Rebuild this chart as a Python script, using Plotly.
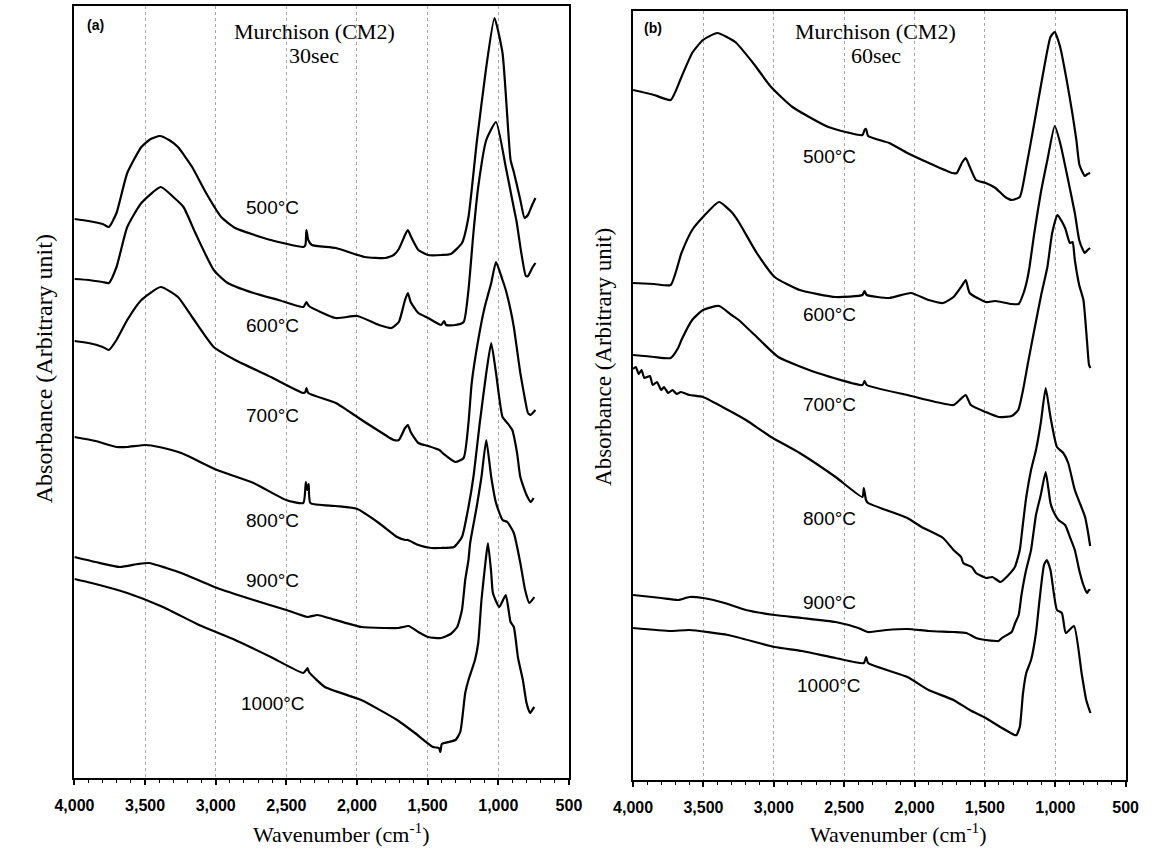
import plotly.graph_objects as go

# ---------------- data (wavenumber cm-1, absorbance in arbitrary units) ----------------
# Panel (a): Murchison (CM2), 30 sec
A500 = [(4000,5.59),(3900,5.57),(3800,5.54),(3756,5.51),(3702,5.65),(3626,6.05),(3526,6.31),(3460,6.39),(3396,6.42),(3330,6.38),(3267,6.31),(3167,6.11),(3068,5.85),(2961,5.61),(2862,5.50),(2610,5.38),(2380,5.31),(2365,5.33),(2358,5.48),(2345,5.38),(2320,5.33),(2150,5.30),(1945,5.21),(1800,5.20),(1740,5.23),(1704,5.29),(1660,5.43),(1640,5.48),(1620,5.42),(1566,5.28),(1497,5.23),(1400,5.23),(1337,5.24),(1257,5.35),(1211,5.61),(1153,6.35),(1085,7.11),(1027,7.60),(970,7.25),(913,6.18),(890,6.06),(844,5.78),(814,5.60),(790,5.63),(760,5.73),(737,5.80)]
A600 = [(4000,4.99),(3900,4.98),(3800,4.96),(3756,4.95),(3702,5.11),(3626,5.51),(3526,5.75),(3389,5.91),(3300,5.81),(3228,5.71),(3144,5.45),(3014,5.08),(2915,4.95),(2732,4.85),(2556,4.78),(2380,4.71),(2358,4.76),(2340,4.72),(2150,4.60),(1998,4.62),(1845,4.53),(1756,4.50),(1704,4.56),(1660,4.78),(1640,4.85),(1620,4.76),(1566,4.65),(1497,4.60),(1405,4.53),(1383,4.57),(1370,4.53),(1303,4.53),(1245,4.56),(1211,4.88),(1176,5.45),(1142,5.91),(1085,6.38),(1016,6.56),(947,6.11),(901,5.78),(870,5.56),(837,5.25),(805,5.02),(790,5.02),(760,5.10),(737,5.15)]
A700 = [(4000,4.37),(3900,4.35),(3800,4.31),(3756,4.28),(3702,4.38),(3626,4.58),(3526,4.78),(3389,4.91),(3267,4.81),(3167,4.61),(3014,4.31),(2862,4.18),(2610,4.01),(2380,3.85),(2365,3.86),(2358,3.90),(2345,3.85),(2150,3.75),(1998,3.61),(1945,3.56),(1800,3.43),(1740,3.38),(1704,3.38),(1660,3.50),(1640,3.53),(1620,3.46),(1566,3.35),(1497,3.32),(1417,3.28),(1394,3.25),(1303,3.16),(1245,3.20),(1211,3.55),(1188,3.95),(1142,4.38),(1096,4.71),(1050,4.95),(1016,5.16),(970,4.98),(947,4.88),(913,4.68),(890,4.51),(867,4.28),(844,4.05),(810,3.78),(790,3.65),(770,3.63),(750,3.66),(737,3.68)]
A800 = [(4000,3.41),(3850,3.37),(3700,3.31),(3626,3.31),(3496,3.33),(3400,3.31),(3244,3.25),(2991,3.08),(2732,2.95),(2503,2.78),(2380,2.75),(2362,2.96),(2352,2.88),(2342,2.94),(2330,2.75),(2150,2.72),(1998,2.69),(1845,2.55),(1716,2.41),(1657,2.38),(1640,2.38),(1566,2.33),(1475,2.30),(1410,2.30),(1314,2.31),(1257,2.41),(1211,2.71),(1176,3.01),(1131,3.55),(1085,4.05),(1050,4.35),(1016,4.05),(970,3.61),(936,3.55),(901,3.48),(867,3.25),(844,3.01),(800,2.83),(770,2.76),(750,2.80)]
A900 = [(4000,2.21),(3850,2.16),(3679,2.11),(3550,2.14),(3473,2.15),(3350,2.10),(3244,2.05),(2991,1.90),(2732,1.78),(2500,1.68),(2350,1.61),(2280,1.63),(2200,1.60),(1970,1.51),(1800,1.50),(1704,1.50),(1635,1.52),(1566,1.46),(1497,1.41),(1405,1.40),(1337,1.44),(1291,1.51),(1257,1.68),(1234,1.98),(1211,2.18),(1199,2.35),(1153,2.71),(1119,3.01),(1085,3.38),(1050,3.01),(1016,2.75),(970,2.58),(936,2.56),(890,2.45),(844,2.15),(810,1.88),(781,1.75),(760,1.78),(745,1.81)]
A1000 = [(4000,1.99),(3878,1.95),(3626,1.85),(3373,1.71),(3117,1.53),(2862,1.38),(2610,1.21),(2380,1.05),(2360,1.08),(2350,1.10),(2340,1.06),(2227,0.91),(1970,0.78),(1716,0.58),(1590,0.45),(1462,0.31),(1420,0.30),(1410,0.26),(1400,0.34),(1383,0.35),(1303,0.38),(1269,0.46),(1234,0.85),(1211,0.98),(1165,1.18),(1142,1.35),(1119,1.78),(1089,2.18),(1073,2.35),(1050,2.05),(1038,1.85),(993,1.71),(947,1.83),(913,1.56),(890,1.51),(860,1.20),(826,0.98),(800,0.75),(775,0.65),(755,0.69),(745,0.71)]

# Panel (b): Murchison (CM2), 60 sec
B500 = [(4000,6.90),(3850,6.85),(3733,6.80),(3656,7.03),(3580,7.27),(3503,7.40),(3401,7.47),(3274,7.38),(3147,7.17),(3019,6.93),(2867,6.73),(2612,6.53),(2370,6.45),(2355,6.50),(2344,6.51),(2330,6.44),(2179,6.37),(2051,6.27),(1898,6.17),(1733,6.07),(1700,6.07),(1660,6.18),(1636,6.22),(1610,6.14),(1563,6.00),(1494,5.97),(1425,5.92),(1356,5.83),(1310,5.80),(1252,5.83),(1206,6.13),(1149,6.57),(1091,7.03),(1034,7.43),(1004,7.48),(965,7.33),(919,7.00),(879,6.67),(850,6.40),(828,6.15),(790,6.04),(770,6.06),(752,6.07)]
B600 = [(4000,4.97),(3850,4.96),(3733,4.95),(3656,5.27),(3580,5.50),(3503,5.63),(3389,5.78),(3300,5.68),(3249,5.58),(3121,5.27),(2994,5.03),(2816,4.90),(2561,4.83),(2370,4.85),(2355,4.89),(2340,4.85),(2179,4.82),(2026,4.87),(1900,4.80),(1797,4.77),(1723,4.83),(1660,4.95),(1636,5.00),(1608,4.87),(1494,4.78),(1425,4.79),(1310,4.76),(1260,4.76),(1225,4.87),(1200,5.00),(1183,5.13),(1149,5.47),(1103,5.87),(1056,6.20),(1004,6.54),(965,6.37),(919,6.07),(861,5.67),(830,5.40),(803,5.30),(790,5.27),(770,5.30),(752,5.32)]
B700 = [(4000,4.25),(3850,4.23),(3733,4.22),(3680,4.32),(3656,4.40),(3580,4.60),(3503,4.70),(3389,4.74),(3300,4.65),(3249,4.60),(3121,4.43),(2968,4.23),(2688,4.07),(2370,3.95),(2355,3.99),(2340,3.95),(2051,3.85),(1723,3.75),(1680,3.80),(1636,3.85),(1600,3.75),(1494,3.68),(1402,3.63),(1310,3.64),(1263,3.70),(1229,3.90),(1194,4.17),(1149,4.50),(1100,4.85),(1056,5.13),(1022,5.47),(984,5.65),(930,5.52),(896,5.37),(877,5.38),(861,5.20),(830,4.95),(800,4.80),(775,4.40),(760,4.15),(750,4.12)]
B800 = [(4000,4.11),(3980,4.13),(3960,4.06),(3940,4.10),(3920,4.02),(3900,4.03),(3880,4.04),(3860,3.95),(3830,3.98),(3800,3.90),(3780,3.93),(3750,3.87),(3720,3.90),(3690,3.86),(3660,3.88),(3600,3.85),(3503,3.83),(3325,3.70),(3198,3.60),(3019,3.43),(2816,3.27),(2561,3.03),(2370,2.83),(2360,2.92),(2345,2.80),(2330,2.77),(2051,2.62),(1950,2.53),(1797,2.42),(1723,2.30),(1669,2.23),(1654,2.17),(1593,2.13),(1563,2.07),(1491,2.02),(1447,2.03),(1389,1.98),(1332,2.05),(1287,2.13),(1252,2.30),(1229,2.57),(1206,2.83),(1172,3.10),(1137,3.30),(1103,3.57),(1068,3.92),(1034,3.63),(988,3.33),(943,3.27),(908,3.17),(861,2.90),(820,2.75),(788,2.63),(770,2.50),(752,2.34)]
B900 = [(4000,1.85),(3800,1.82),(3680,1.80),(3600,1.83),(3503,1.82),(3350,1.77),(3198,1.70),(2994,1.65),(2800,1.62),(2561,1.58),(2400,1.52),(2332,1.48),(2200,1.50),(2051,1.51),(1900,1.49),(1723,1.48),(1632,1.47),(1563,1.42),(1494,1.40),(1420,1.39),(1402,1.39),(1379,1.42),(1310,1.48),(1285,1.57),(1260,1.65),(1240,1.85),(1210,2.08),(1172,2.30),(1137,2.65),(1103,2.85),(1068,3.08),(1034,2.77),(1011,2.68),(977,2.60),(930,2.55),(896,2.43),(861,2.30),(830,2.10),(800,1.95),(775,1.87),(760,1.90),(750,1.90)]
B1000 = [(4000,1.52),(3733,1.49),(3600,1.50),(3325,1.45),(2994,1.33),(2800,1.29),(2561,1.22),(2360,1.17),(2344,1.23),(2330,1.17),(2051,1.03),(1900,0.90),(1723,0.80),(1608,0.70),(1494,0.62),(1379,0.52),(1290,0.45),(1275,0.45),(1252,0.53),(1229,0.87),(1206,1.07),(1172,1.20),(1137,1.47),(1114,1.77),(1080,2.15),(1060,2.20),(1034,2.10),(988,1.70),(953,1.67),(925,1.47),(867,1.54),(813,1.07),(780,0.80),(750,0.67)]

TEMPS = ["500°C", "600°C", "700°C", "800°C", "900°C", "1000°C"]
SERIES_A = [A500, A600, A700, A800, A900, A1000]
SERIES_B = [B500, B600, B700, B800, B900, B1000]
TITLES = [("Murchison (CM2)", "30sec", "(a)"), ("Murchison (CM2)", "60sec", "(b)")]
X_TICKS = [4000, 3500, 3000, 2500, 2000, 1500, 1000, 500]

# ---------------- layout helpers (pixel -> paper, margins are zero) ----------------
W, H = 1160, 853
def px(x):
    return x / W
def py(y):
    return 1 - y / H

SANS = "Liberation Sans, Arial, sans-serif"
SERIF = "Liberation Serif, Times New Roman, serif"

fig = go.Figure()
for series, xa, ya in ((SERIES_A, "x", "y"), (SERIES_B, "x2", "y2")):
    for s in series:
        fig.add_trace(go.Scatter(
            x=[p[0] for p in s], y=[p[1] for p in s], mode="lines",
            line=dict(color="black", width=2.2, shape="spline", smoothing=0.5),
            xaxis=xa, yaxis=ya, showlegend=False, hoverinfo="skip"))

def xaxis_style(domain, anchor):
    return dict(
        domain=domain, anchor=anchor, range=[4000, 500],
        tickvals=X_TICKS, tickformat=",d",
        ticks="outside", ticklen=5, tickwidth=1.5, tickcolor="black",
        minor=dict(dtick=100, tick0=0, ticks="outside", ticklen=3, tickwidth=1, tickcolor="black", showgrid=False),
        showline=True, mirror=True, linecolor="black", linewidth=1.6,
        showgrid=True, gridcolor="#a8a8a8", griddash="dot", gridwidth=1,
        zeroline=False, ticklabelstandoff=7,
        tickfont=dict(family=SANS, size=16, color="black", weight="bold"),
    )

def yaxis_style(domain, anchor, top):
    return dict(
        domain=domain, anchor=anchor, range=[0, top],
        showticklabels=False, ticks="", showgrid=False, zeroline=False,
        showline=True, mirror=True, linecolor="black", linewidth=1.6,
    )

fig.update_layout(
    width=W, height=H, margin=dict(l=0, r=0, t=0, b=0),
    paper_bgcolor="white", plot_bgcolor="white",
    xaxis=xaxis_style([px(56), px(565)], "y"),
    yaxis=yaxis_style([py(778), py(6)], "x", 7.72),
    xaxis2=xaxis_style([px(631), px(1138)], "y2"),
    yaxis2=yaxis_style([py(780), py(11)], "x2", 7.69),
)

def note(x, y, text, font, angle=0):
    return dict(xref="paper", yref="paper", x=px(x), y=py(y), text=text, showarrow=False,
                xanchor="center", yanchor="middle", textangle=angle, font=font)

annotations = []
# temperature labels
label_y_a = [207, 325, 415, 520, 580, 703]
label_y_b = [157, 315, 405, 518, 602, 685]
lab_font = dict(family=SANS, size=19, color="black")
for t, ya_, yb_ in zip(TEMPS, label_y_a, label_y_b):
    annotations.append(note(260, ya_, t, lab_font))
    annotations.append(note(833, yb_, t, lab_font))

title_font = dict(family=SERIF, size=22, color="black")
tag_font = dict(family=SANS, size=14, color="black", weight="bold")
for (t1, t2, tag), cx, tagx, tagy in ((TITLES[0], 303, 78, 25), (TITLES[1], 881, 652, 28)):
    annotations.append(note(cx, 32, t1, title_font))
    annotations.append(note(cx, 55, t2, title_font))
    annotations.append(note(tagx, tagy, tag, tag_font))

for cx in (331, 904):
    annotations.append(note(cx, 833, "Wavenumber (cm<sup>-1</sup>)", dict(family=SERIF, size=22, color="black")))
annotations.append(note(25, 369, "Absorbance (Arbitrary unit)", dict(family=SERIF, size=24, color="black"), -90))
annotations.append(note(600, 357, "Absorbance (Arbitrary unit)", dict(family=SERIF, size=23, color="black"), -90))

fig.update_layout(annotations=annotations)
fig.write_html("out.html")
